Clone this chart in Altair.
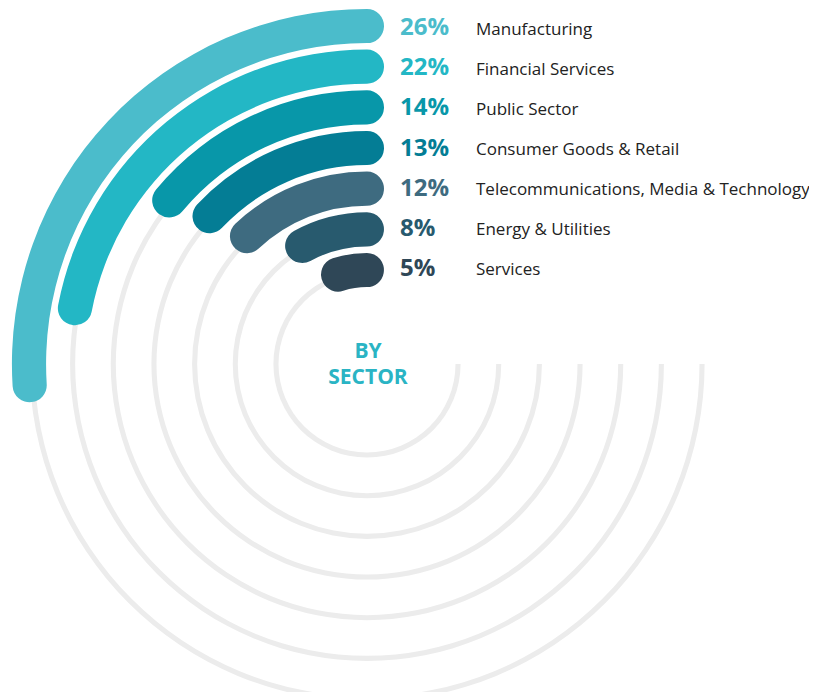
import altair as alt
import pandas as pd

sectors = ["Manufacturing", "Financial Services", "Public Sector", "Consumer Goods & Retail",
           "Telecommunications, Media & Technology", "Energy & Utilities", "Services"]
shares = [26, 22, 14, 13, 12, 8, 5]
colors = ["#4bbccb", "#23b7c5", "#0897a9", "#047d95", "#3e6b80", "#285a6e", "#2f4757"]
center_lines = ["BY", "SECTOR"]

n = len(sectors)
df = pd.DataFrame({
    "sector": sectors,
    "share": shares,
    "color": colors,
    "idx": [n - 1 - i for i in range(n)],
    "label": [f"{s}%" for s in shares],
})
rings = pd.DataFrame({"idx": list(range(n))})
center_df = pd.DataFrame({"line": center_lines, "row": [0, 1]})

W, H = 801, 684
CX, CY = 359, 356
R0, R1 = 94, 338
STEP = (R1 - R0) / (n - 1)
CAP = 17

rscale = alt.Scale(type="linear", domain=[0, n - 1], range=[R0, R1], zero=False)
tscale = alt.Scale(type="linear", domain=[0, 100], range=[0, 6.283185307179586], zero=False)
pct_y = alt.Scale(type="linear", domain=[0, n - 1], range=[260, 19], zero=False)
name_y = alt.Scale(type="linear", domain=[0, n - 1], range=[261, 21], zero=False)

ring_layer = alt.Chart(rings).transform_calculate(
    t0="25", t1="100", r_in="datum.idx - 0.135", r_out="datum.idx - 0.01"
).mark_arc(color="#ececec").encode(
    theta=alt.Theta("t0:Q", scale=tscale, stack=None),
    theta2="t1:Q",
    radius=alt.Radius("r_in:Q", scale=rscale),
    radius2="r_out:Q",
    x=alt.value(CX), y=alt.value(CY),
)

bars = alt.Chart(df).transform_calculate(
    rpx=f"{R0} + {STEP} * datum.idx",
).transform_calculate(
    cap=f"{CAP} / datum.rpx / (2 * PI) * 100",
).transform_calculate(
    t0="100 - datum.share - datum.cap",
    t1="100 + datum.cap",
    r_in="datum.idx - 0.42",
    r_out="datum.idx + 0.42",
).mark_arc(cornerRadius=17).encode(
    theta=alt.Theta("t0:Q", scale=tscale, stack=None),
    theta2="t1:Q",
    radius=alt.Radius("r_in:Q", scale=rscale),
    radius2="r_out:Q",
    color=alt.Color("color:N", scale=None),
    x=alt.value(CX), y=alt.value(CY),
)

pct = alt.Chart(df).mark_text(
    align="left", baseline="middle", font="Open Sans", fontSize=24, fontWeight="bold", dy=1
).encode(
    x=alt.value(392),
    y=alt.Y("idx:Q", scale=pct_y, axis=None),
    text="label:N",
    color=alt.Color("color:N", scale=None),
)

names = alt.Chart(df).mark_text(
    align="left", baseline="middle", font="Open Sans", fontSize=17, color="#222222", dy=1
).encode(
    x=alt.value(468),
    y=alt.Y("idx:Q", scale=name_y, axis=None),
    text="sector:N",
)

center_text = alt.Chart(center_df).mark_text(
    align="center", baseline="middle", font="Open Sans", fontSize=21, fontWeight="bold",
    color="#2ab4c4", dy=1
).encode(
    x=alt.value(CX + 1),
    y=alt.Y("row:Q", scale=alt.Scale(domain=[0, 1], range=[342.5, 368.5]), axis=None),
    text="line:N",
)

chart = alt.layer(ring_layer, bars, pct, names, center_text).resolve_scale(
    y="independent"
).properties(
    width=W, height=H, padding=0, autosize=alt.AutoSizeParams(type="none")
).configure_view(stroke=None)

chart.save("out.html", embed_options={"renderer": "svg", "actions": False})
